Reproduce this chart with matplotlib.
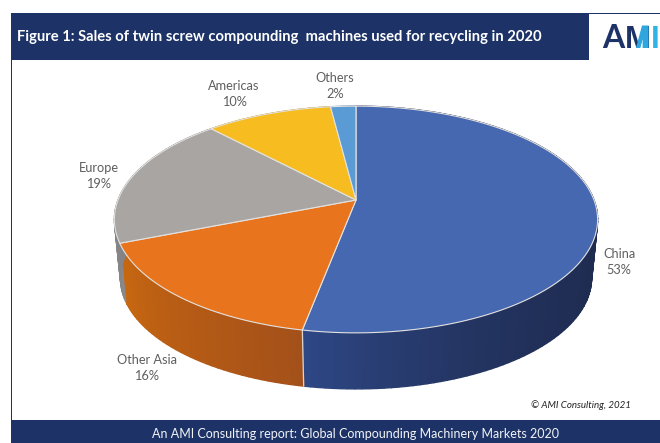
import numpy as np
import matplotlib
matplotlib.use("Agg")
import matplotlib.pyplot as plt
from matplotlib.patches import Rectangle, Polygon
from matplotlib.colors import to_rgb

# Market shares, clockwise from twelve o'clock
regions = ["China", "Other Asia", "Europe", "Americas", "Others"]
shares = [53, 16, 19, 10, 2]
top_colors = ["#4668B0", "#E8751E", "#A8A5A3", "#F6BC20", "#5B9BD5"]
# Wall shade at the clockwise start and end of each slice
side_start = ["#1E2A4E", "#A4501A", "#8A898C", "#C79614", "#44749F"]
side_end = ["#2E4886", "#C86810", "#75757A", "#B58A12", "#3E6C96"]
label_xy = [(619, 254), (147, 360), (99, 168), (234, 86), (335, 78)]

NAVY = "#1D3368"
title = "Figure 1: Sales of twin screw compounding  machines used for recycling in 2020"
footer = "An AMI Consulting report: Global Compounding Machinery Markets 2020"
credit = "© AMI Consulting, 2021"

plt.rcParams["font.family"] = ["Lato", "DejaVu Sans"]
fig = plt.figure(figsize=(6.6, 4.43), dpi=100)
ax = fig.add_axes([0, 0, 1, 1])
ax.set_xlim(0, 660)
ax.set_ylim(443, 0)
ax.axis("off")


def project(theta, cx=356.0, cy=200.0, rx=238.0, ry=110.0, persp=0.172):
    """Perspective view of a disc; theta runs clockwise from the far edge."""
    k = 1.0 / (1.0 + persp * np.cos(theta))
    return cx + rx * np.sin(theta) * k, cy - ry * np.cos(theta) * k


def floor(theta):
    # The lower rim sits further from the viewer, hence the smaller radii
    return project(theta, cy=259.3, rx=232.0, ry=107.3)


edges = np.radians(np.concatenate([[0], np.cumsum(shares)]) * 3.6)

# Side wall, drawn as thin shaded strips so the shading varies along the rim
for i, (a, b) in enumerate(zip(edges[:-1], edges[1:])):
    steps = max(int(np.degrees(b - a) / 1.5), 2)
    t = np.linspace(a, b, steps + 1)
    start, end = np.array(to_rgb(side_start[i])), np.array(to_rgb(side_end[i]))
    for j in range(steps):
        mix = (j + 0.5) / steps
        if i == 0:
            # China stays dark until close to the seam with Other Asia
            mix = mix ** 5
        col = start * (1 - mix) + end * mix
        x0, y0 = project(t[j:j + 2])
        x1, y1 = floor(t[j:j + 2])
        ax.add_patch(Polygon(np.column_stack([np.r_[x0, x1[::-1]], np.r_[y0, y1[::-1]]]),
                             closed=True, fc=col, ec=col, lw=1.0, zorder=2))

# Seam between the two front-facing wall sections
sx0, sy0 = project(edges[1])
sx1, sy1 = floor(edges[1])
ax.plot([sx0, sx1], [sy0, sy1], color="#D9D6D2", lw=0.9, zorder=3)

# Top face of each slice
for i, (a, b) in enumerate(zip(edges[:-1], edges[1:])):
    t = np.linspace(a, b, 120)
    x, y = project(t)
    ax.add_patch(Polygon(np.column_stack([np.r_[356.0, x], np.r_[200.0, y]]),
                         closed=True, fc=top_colors[i], ec="#E4E2E0", lw=0.8,
                         joinstyle="round", zorder=4))

# Region labels with their shares
for name, value, (lx, ly) in zip(regions, shares, label_xy):
    ax.text(lx, ly, name, ha="center", va="center", fontsize=9.2, color="#5F5F5F", zorder=6)
    ax.text(lx, ly + 16, f"{value}%", ha="center", va="center", fontsize=9.2, color="#5F5F5F", zorder=6)

# Page furniture: header, footer and left rule
ax.add_patch(Rectangle((10.5, 13), 578.5, 47, fc=NAVY, ec="none", zorder=5))
ax.add_patch(Rectangle((589, 12.5), 71, 1.3, fc=NAVY, ec="none", zorder=5))
ax.add_patch(Rectangle((589, 59.5), 71, 0.8, fc="#D6DAE4", ec="none", zorder=5))
ax.add_patch(Rectangle((10.5, 60), 1.6, 360, fc=NAVY, ec="none", zorder=5))
ax.add_patch(Rectangle((10.5, 420), 649.5, 23, fc=NAVY, ec="none", zorder=5))

ax.text(17, 37, title, ha="left", va="center", fontsize=10.67, fontweight="bold", color="white", zorder=6)
ax.text(355, 434, footer, ha="center", va="center", fontsize=9.0, color="#F2F3F6", zorder=6)
ax.text(631, 405, credit, ha="right", va="center", fontsize=7, fontstyle="italic", color="#222222", zorder=6)

# Company mark: navy letters, with the right stroke of the M picked out in blue
ax.text(602, 48, "A", ha="left", va="baseline", fontsize=23, fontweight="bold", color=NAVY, zorder=6)
ax.text(625, 48, "M", ha="left", va="baseline", fontsize=22.5, fontweight="bold",
        family="Liberation Sans", color=NAVY, zorder=6)
ax.add_patch(Polygon([(636, 48), (640.3, 48), (642.6, 39), (642.6, 48), (648.6, 48), (648.6, 25.5), (642, 25.5)],
                     closed=True, fc="#2FA6DE", ec="none", zorder=7))
ax.text(651, 48, "I", ha="left", va="baseline", fontsize=22.5, fontweight="bold",
        family="Liberation Sans", color="#2FB4E6", zorder=6)

fig.savefig("out.png", dpi=100)
